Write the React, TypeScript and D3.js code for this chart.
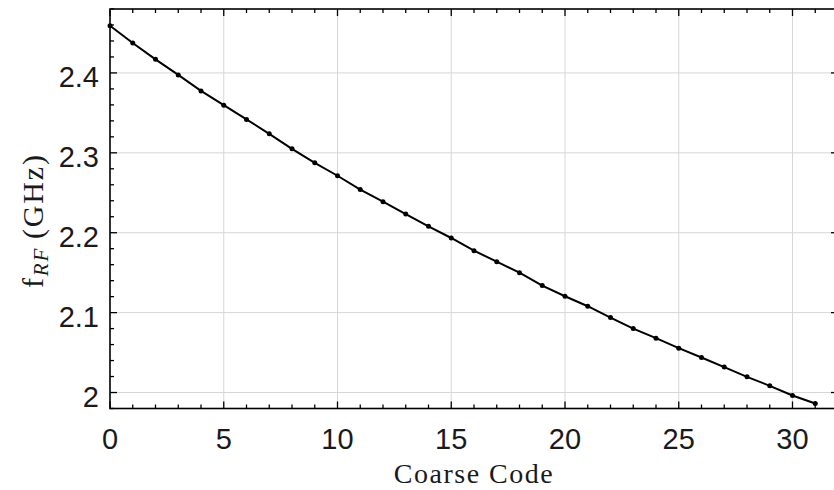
import { useEffect, useRef } from "react";
import * as d3 from "d3";

// coarse code values 0..31 and measured RF frequency in GHz
const codes = d3.range(0, 32);
const freqGHz = [
  2.459, 2.4375, 2.417, 2.3975, 2.3775, 2.3596, 2.3418, 2.3238, 2.305, 2.2875,
  2.2713, 2.254, 2.2388, 2.2234, 2.208, 2.1934, 2.1775, 2.1638, 2.15, 2.1338,
  2.1205, 2.108, 2.0938, 2.08, 2.068, 2.0555, 2.0438, 2.0318, 2.0196, 2.0084,
  1.9963, 1.9863,
];
const xTicks = [0, 5, 10, 15, 20, 25, 30];
const yTicks = [2.0, 2.1, 2.2, 2.3, 2.4];
const yTickLabels = ["2", "2.1", "2.2", "2.3", "2.4"];

const W = 834;
const H = 490;
const m = { left: 110, top: 9, right: 838, bottom: 408.5 };

const App = () => {
  const svgRef = useRef<SVGSVGElement>(null);

  useEffect(() => {
    const svg = d3.select(svgRef.current);
    svg.selectAll("*").remove();

    const x = d3.scaleLinear().domain([0, 32]).range([m.left, m.right]);
    const y = d3.scaleLinear().domain([1.98, 2.48]).range([m.bottom, m.top]);

    const data = codes.map((c, i) => ({ c, f: freqGHz[i] }));

    const g = svg.append("g");

    // grid
    g.selectAll(".gx")
      .data(xTicks.slice(1))
      .join("line")
      .attr("x1", (d) => x(d))
      .attr("x2", (d) => x(d))
      .attr("y1", m.top)
      .attr("y2", m.bottom)
      .attr("stroke", "#d6d6d6")
      .attr("stroke-width", 1);
    g.selectAll(".gy")
      .data(yTicks)
      .join("line")
      .attr("x1", m.left)
      .attr("x2", m.right)
      .attr("y1", (d) => y(d))
      .attr("y2", (d) => y(d))
      .attr("stroke", "#d6d6d6")
      .attr("stroke-width", 1);

    // inward ticks on all four sides
    const xMinor = d3.range(0, 33);
    const yMinor = d3.range(1.98, 2.481, 0.02).map((v) => +v.toFixed(2));
    const isMajorX = (d: number) => d % 5 === 0;
    const isMajorY = (d: number) => Math.abs(d * 10 - Math.round(d * 10)) < 1e-6;
    const ticks = g.append("g").attr("stroke", "#000").attr("stroke-width", 1.3);
    xMinor.forEach((d) => {
      const len = isMajorX(d) ? 7 : 4;
      ticks.append("line").attr("x1", x(d)).attr("x2", x(d)).attr("y1", m.bottom).attr("y2", m.bottom - len);
      ticks.append("line").attr("x1", x(d)).attr("x2", x(d)).attr("y1", m.top).attr("y2", m.top + len);
    });
    yMinor.forEach((d) => {
      const len = isMajorY(d) ? 7 : 4;
      ticks.append("line").attr("x1", m.left).attr("x2", m.left + len).attr("y1", y(d)).attr("y2", y(d));
      ticks.append("line").attr("x1", m.right).attr("x2", m.right - len).attr("y1", y(d)).attr("y2", y(d));
    });

    // data line + markers
    const line = d3
      .line<{ c: number; f: number }>()
      .x((d) => x(d.c))
      .y((d) => y(d.f));
    g.append("path")
      .datum(data)
      .attr("d", line)
      .attr("fill", "none")
      .attr("stroke", "#000")
      .attr("stroke-width", 2);
    g.selectAll(".pt")
      .data(data)
      .join("circle")
      .attr("cx", (d) => x(d.c))
      .attr("cy", (d) => y(d.f))
      .attr("r", 2.5)
      .attr("fill", "#000");

    // frame
    g.append("rect")
      .attr("x", m.left)
      .attr("y", m.top)
      .attr("width", m.right - m.left)
      .attr("height", m.bottom - m.top)
      .attr("fill", "none")
      .attr("stroke", "#000")
      .attr("stroke-width", 1.6);

    // tick labels
    const sans = "'Liberation Sans', Arial, sans-serif";
    g.selectAll(".xl")
      .data(xTicks)
      .join("text")
      .attr("x", (d) => x(d))
      .attr("y", 449)
      .attr("text-anchor", "middle")
      .attr("font-family", sans)
      .attr("font-size", 29)
      .attr("fill", "#1a1a1a")
      .text((d) => d);
    g.selectAll(".yl")
      .data(yTicks)
      .join("text")
      .attr("x", 99)
      .attr("y", (d) => y(d) + 14)
      .attr("text-anchor", "end")
      .attr("font-family", sans)
      .attr("font-size", 29)
      .attr("fill", "#1a1a1a")
      .text((d, i) => yTickLabels[i]);

    // axis titles
    const serif = "'Liberation Serif', 'Times New Roman', serif";
    g.append("text")
      .attr("x", (m.left + m.right) / 2)
      .attr("y", 483)
      .attr("text-anchor", "middle")
      .attr("font-family", serif)
      .attr("font-size", 28)
      .attr("letter-spacing", 1.5)
      .attr("fill", "#1a1a1a")
      .text("Coarse Code");

    const yt = g
      .append("text")
      .attr("transform", `translate(43, 288) rotate(-90)`)
      .attr("font-family", serif)
      .attr("font-size", 30)
      .attr("letter-spacing", 1.8)
      .attr("fill", "#1a1a1a");
    yt.append("tspan").text("f");
    yt.append("tspan")
      .attr("font-size", 21)
      .attr("font-style", "italic")
      .attr("dy", 5)
      .text("RF");
    yt.append("tspan").attr("dy", -5).attr("dx", 8).text("(GHz)");
  }, []);

  return (
    <svg
      ref={svgRef}
      width={W}
      height={H}
      style={{ position: "absolute", left: 0, top: 0, background: "#fff" }}
    />
  );
};

export default App;
